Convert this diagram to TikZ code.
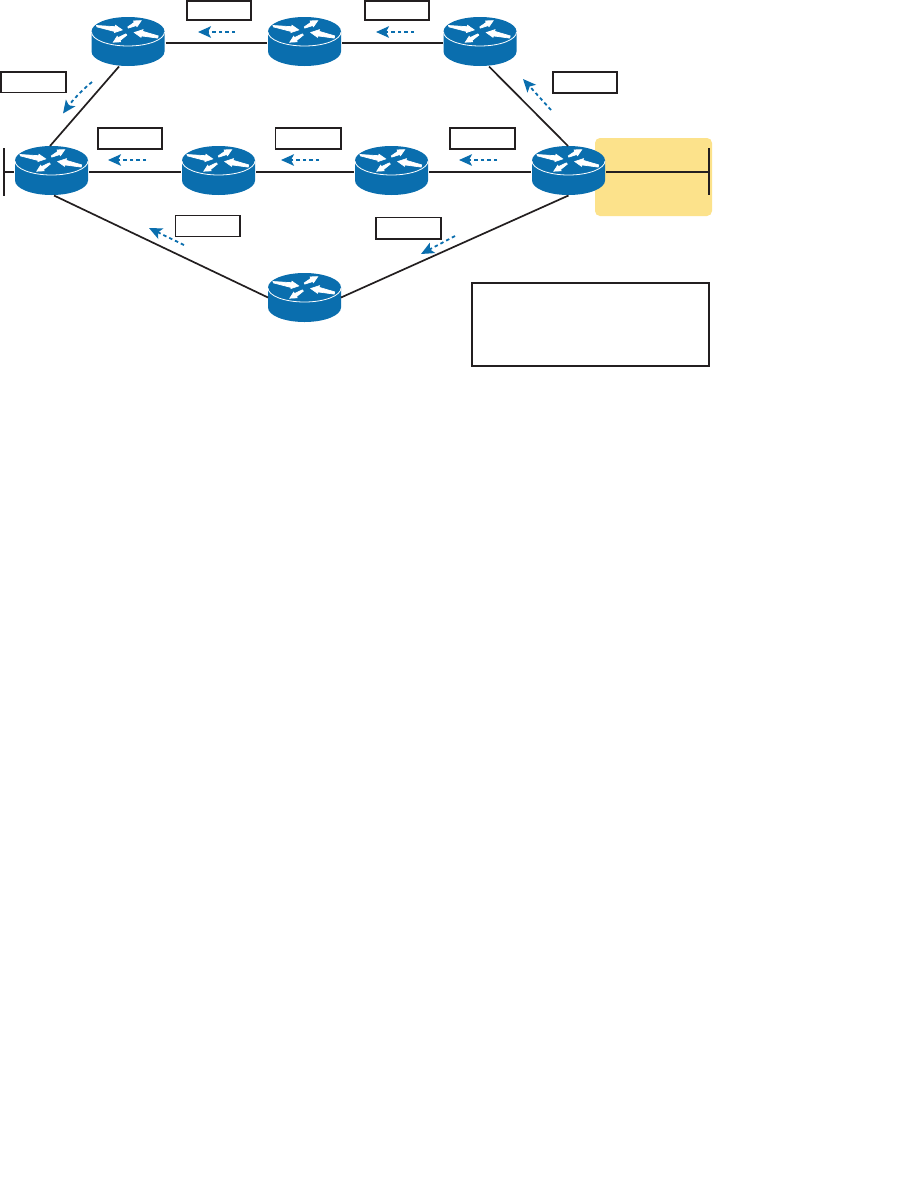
\documentclass[tikz,border=0pt]{standalone}
\usetikzlibrary{arrows.meta,calc}
\definecolor{ciscoblue}{HTML}{0A6EAE}
\definecolor{zonefill}{HTML}{FCE28B}
\definecolor{inkline}{HTML}{231F20}
\tikzset{
  routerbox/.style={inner sep=0pt,outer sep=0pt,minimum width=73pt,minimum height=49pt},
  routerarrow/.style={fill=white,draw=white,line width=0.7pt,line join=miter},
  link/.style={draw=inkline,line width=1.7pt},
  labelbox/.style={draw=inkline,line width=1.6pt,fill=white,inner sep=0pt,outer sep=0pt,anchor=north west},
  flow/.style={draw=ciscoblue,line width=1.8pt,dash pattern=on 3.5pt off 3pt,
    -{Stealth[length=13pt,width=11.5pt,inset=3pt,sep=0pt]}},
  zone/.style={fill=zonefill,rounded corners=5pt,inner sep=0pt,outer sep=0pt,anchor=north west}
}
% name, x, y (centre of the router body)
\newcommand{\routerat}[3]{%
  \node[routerbox] (#1) at (#2,#3) {};
  \coordinate (#1-w) at ($(#1.west)+(-1,1.5)$);
  \coordinate (#1-e) at ($(#1.east)+(1,1.5)$);
  \begin{scope}[shift={(#2,#3-10)}]
    \fill[ciscoblue] (-36.5,0) -- (-36.5,20) arc[start angle=180,end angle=0,x radius=36.5,y radius=14.5]
      -- (36.5,0) arc[start angle=0,end angle=-180,x radius=36.5,y radius=14.5] -- cycle;
    \draw[white,line width=0.8pt] (-36.5,0.5) arc[start angle=180,end angle=0,x radius=36.5,y radius=14];
    \path[routerarrow] (-31.5,-6) -- (-12.8,-4.8) -- (-12.5,-6.2) -- (-5.8,-1.6) -- (-13.5,1) -- (-13.2,0) -- (-31,-4.6) -- cycle;
    \path[routerarrow] (-0.2,-4.6) -- (6.2,-9) -- (5.6,-10.6) -- (13.2,-10.8) -- (9,-4.8) -- (8.3,-6) -- (0.3,-3.4) -- cycle;
    \path[routerarrow] (30.2,4.4) -- (14.5,-0.2) -- (15,-1.8) -- (6.3,1) -- (13,5.8) -- (13.4,4.4) -- (29.7,6.6) -- cycle;
    \path[routerarrow] (-2.2,2.4) -- (-10.2,6.2) -- (-10.8,4.8) -- (-14.7,10.7) -- (-7.4,10.3) -- (-7.9,9) -- (-1.2,3.6) -- cycle;
  \end{scope}}
\newcommand{\labelat}[5]{%
  \node[labelbox,minimum width=#4pt-#2pt,minimum height=#5pt-#3pt] (#1) at (#2,#3) {};}
\begin{document}
\begin{tikzpicture}[x=1pt,y=-1pt]
\useasboundingbox (0,0) rectangle (902,1189);
\fill[white] (0,0) rectangle (902,1189);

\node[zone,minimum width=117pt,minimum height=78pt] (yellowzone) at (595,138) {};

% routers
\routerat{ta}{128}{41.5}
\routerat{tb}{304.5}{41.5}
\routerat{tc}{480}{41.5}
\routerat{ma}{51.5}{170.5}
\routerat{mb}{218.5}{170.5}
\routerat{mc}{391.5}{170.5}
\routerat{md}{568.5}{170.5}
\routerat{bb}{304.5}{297.5}

% stub LANs
\coordinate (leftT) at (4,148);
\coordinate (leftB) at (4,196);
\coordinate (leftM) at (4,172);
\coordinate (rightT) at (709,148);
\coordinate (rightB) at (709,195);
\coordinate (rightM) at (709,172);
\draw[link] (leftT) -- (leftB);
\draw[link] (rightT) -- (rightB);
\draw[link] (leftM) -- (ma-w);
\draw[link] (md-e) -- (rightM);

% links
\draw[link] (ta-e) -- (tb-w);
\draw[link] (tb-e) -- (tc-w);
\draw[link] (ma-e) -- (mb-w);
\draw[link] (mb-e) -- (mc-w);
\draw[link] (mc-e) -- (md-w);
\draw[link] ($(ta.south)+(-9,0.5)$) -- ($(ma.north)+(-1.5,0)$);
\draw[link] ($(tc.south)+(9,0.5)$) -- ($(md.north)+(-0.5,0)$);
\draw[link] ($(ma.south)+(2.5,0.5)$) -- ($(bb.west)+(0,0)$);
\draw[link] ($(md.south)+(0,0.5)$) -- ($(bb.east)+(0,0)$);

% label boxes
\labelat{l1}{187}{1}{251}{20}
\labelat{l2}{365}{1}{429}{20}
\labelat{l3}{1}{72}{66}{92.5}
\labelat{l4}{553}{72}{617}{93}
\labelat{l5}{98}{128}{162}{149}
\labelat{l6}{275.5}{128}{341}{149}
\labelat{l7}{450}{128}{515}{149}
\labelat{l8}{175.5}{215.5}{240}{236.5}
\labelat{l9}{376}{217.5}{441}{239}
\labelat{l10}{472}{283}{709}{366}

% flow arrows
\coordinate (f1a) at (235,32);   \coordinate (f1b) at (198,32);
\coordinate (f2a) at (414,32);   \coordinate (f2b) at (376,32);
\coordinate (f3a) at (146,160); \coordinate (f3b) at (108,160);
\coordinate (f4a) at (319,160); \coordinate (f4b) at (281,160);
\coordinate (f5a) at (497,160); \coordinate (f5b) at (459,160);
\coordinate (f6a) at (92,82);    \coordinate (f6b) at (63,113.5);
\coordinate (f7a) at (551,110);  \coordinate (f7b) at (523,79);
\coordinate (f8a) at (184,245);  \coordinate (f8b) at (149,228);
\coordinate (f9a) at (455,236);  \coordinate (f9b) at (421,254);
\draw[flow] (f1a) -- (f1b);
\draw[flow] (f2a) -- (f2b);
\draw[flow] (f3a) -- (f3b);
\draw[flow] (f4a) -- (f4b);
\draw[flow] (f5a) -- (f5b);
\draw[flow] (f6a) .. controls (82,90) and (72,101) .. (f6b);
\draw[flow] (f7a) -- (f7b);
\draw[flow] (f8a) -- (f8b);
\draw[flow] (f9a) -- (f9b);
\end{tikzpicture}
\end{document}
